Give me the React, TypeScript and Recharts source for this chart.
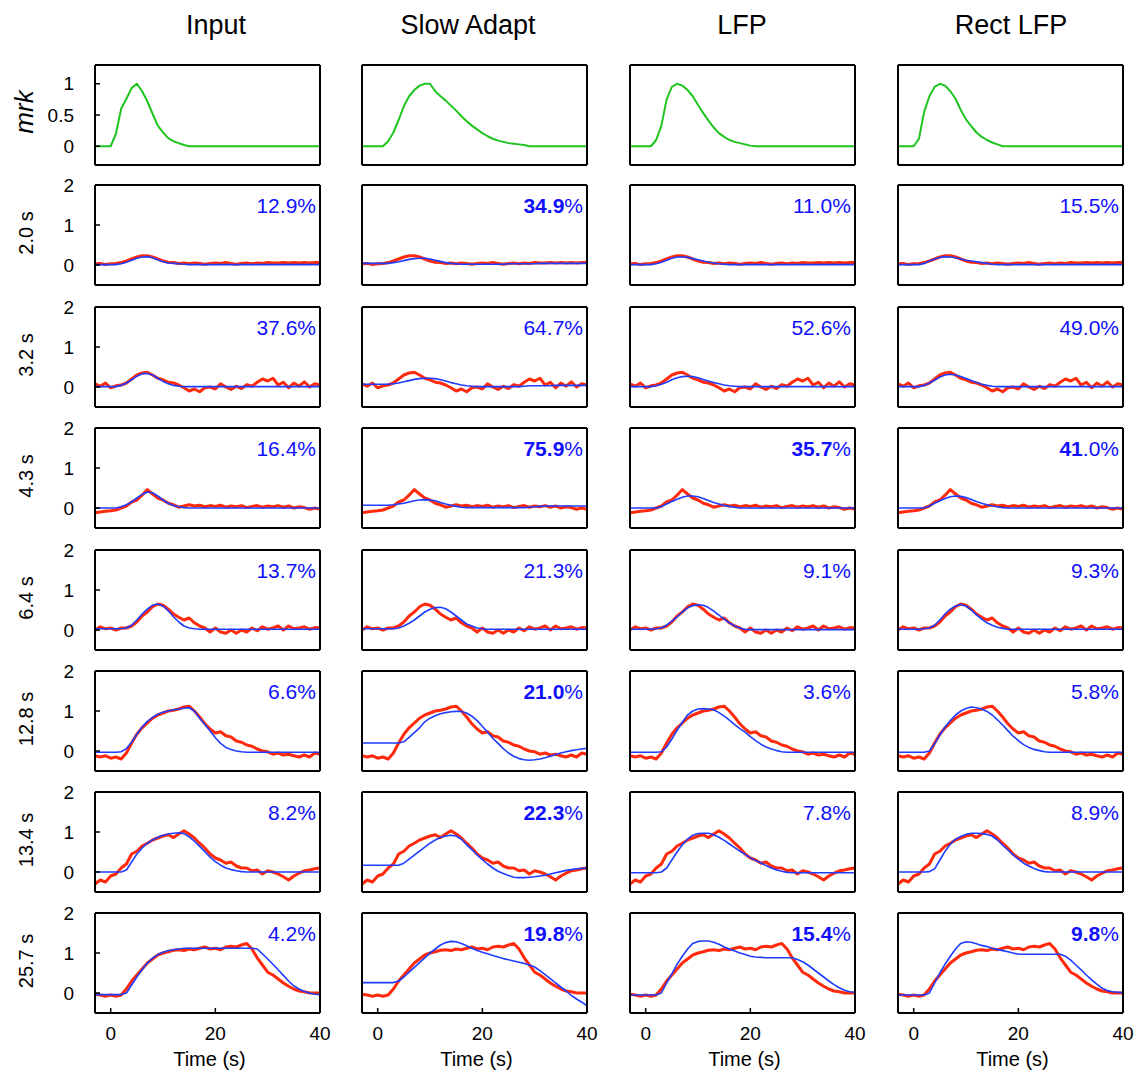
import React from 'react';
import { LineChart, Line, XAxis, YAxis } from 'recharts';

const FONT = '"Liberation Sans", Arial, Helvetica, sans-serif';

// time axis, 1 s steps
const TIME = [-3, -2, -1, 0, 1, 2, 3, 4, 5, 6, 7, 8, 9, 10, 11, 12, 13, 14, 15, 16, 17, 18, 19, 20, 21, 22, 23, 24, 25, 26, 27, 28, 29, 30, 31, 32, 33, 34, 35, 36, 37, 38, 39, 40];

const COLUMNS = ['Input', 'Slow Adapt', 'LFP', 'Rect LFP'];
const TITLE_X = [216, 468, 742, 1011];
const ROW_LABELS = ['2.0 s', '3.2 s', '4.3 s', '6.4 s', '12.8 s', '13.4 s', '25.7 s'];

const X_TICKS = [0, 20, 40];
const MRK_TICKS = [0, 0.5, 1];
const RESP_TICKS = [0, 1, 2];

// mrk stimulus per column
const MRK_INPUT = [
  0, 0, 0, 0, 0.2, 0.6, 0.76, 0.93, 1.0, 0.88,
  0.72, 0.52, 0.33, 0.22, 0.13, 0.08, 0.05, 0.02, 0, 0,
  0, 0, 0, 0, 0, 0, 0, 0, 0, 0,
  0, 0, 0, 0, 0, 0, 0, 0, 0, 0,
  0, 0, 0, 0];
const MRK_SLOW = [
  0, 0, 0, 0, 0, 0.08, 0.22, 0.42, 0.64, 0.8,
  0.9, 0.97, 1.0, 1.0, 0.88, 0.8, 0.73, 0.65, 0.57, 0.48,
  0.4, 0.33, 0.27, 0.21, 0.16, 0.12, 0.09, 0.07, 0.05, 0.04,
  0.03, 0.02, 0, 0, 0, 0, 0, 0, 0, 0,
  0, 0, 0, 0];
const MRK_LFP = [
  0, 0, 0, 0, 0, 0.1, 0.33, 0.75, 0.95, 1.0,
  0.97, 0.9, 0.8, 0.66, 0.53, 0.41, 0.3, 0.21, 0.15, 0.1,
  0.07, 0.05, 0.03, 0.01, 0, 0, 0, 0, 0, 0,
  0, 0, 0, 0, 0, 0, 0, 0, 0, 0,
  0, 0, 0, 0];
const MRK_RECT = [
  0, 0, 0, 0, 0.12, 0.55, 0.8, 0.95, 1.0, 0.97,
  0.88, 0.76, 0.58, 0.43, 0.32, 0.22, 0.15, 0.1, 0.06, 0.03,
  0, 0, 0, 0, 0, 0, 0, 0, 0, 0,
  0, 0, 0, 0, 0, 0, 0, 0, 0, 0,
  0, 0, 0, 0];

// measured responses (red), one per row
const RED_2_0 = [
  0.03, 0.04, 0.01, 0.03, 0.04, 0.06, 0.1, 0.15, 0.2, 0.23,
  0.23, 0.2, 0.15, 0.1, 0.07, 0.06, 0.04, 0.05, 0.03, 0.05,
  0.04, 0.02, 0.04, 0.05, 0.04, 0.06, 0.04, 0.02, 0.04, 0.05,
  0.03, 0.05, 0.04, 0.06, 0.05, 0.05, 0.06, 0.05, 0.06, 0.05,
  0.06, 0.05, 0.06, 0.06];
const RED_3_2 = [
  0.08, 0.02, 0.1, -0.02, 0.03, 0.05, 0.1, 0.2, 0.3, 0.35,
  0.37, 0.3, 0.22, 0.18, 0.12, 0.1, 0.05, -0.02, -0.1, -0.05,
  -0.12, -0.02, 0, -0.05, 0.08, 0, -0.06, 0.02, -0.04, 0.06,
  0.02, 0.12, 0.2, 0.15, 0.22, 0.05, 0.12, -0.02, 0.1, 0.02,
  0.13, 0, 0.08, 0.05];
const RED_4_3 = [
  -0.12, -0.1, -0.08, -0.07, -0.05, 0, 0.05, 0.15, 0.2, 0.32,
  0.46, 0.35, 0.25, 0.2, 0.12, 0.08, 0.02, 0.05, 0.08, 0.05,
  0.07, 0.03, 0.06, 0.04, 0.07, 0.02, 0.05, 0.03, 0.06, 0.01,
  0.04, 0.06, 0.02, 0.05, 0.03, 0.06, 0.02, 0.05, 0, 0.03,
  0.01, -0.03, 0, -0.03];
const RED_6_4 = [
  0, 0.08, 0.03, 0.05, 0, 0.05, 0.05, 0.1, 0.2, 0.35,
  0.45, 0.58, 0.65, 0.62, 0.52, 0.4, 0.32, 0.25, 0.3, 0.18,
  0.1, 0.05, -0.05, 0.05, -0.05, -0.08, 0, -0.08, 0, -0.05,
  0.05, -0.02, 0.08, 0.02, 0.05, 0.1, 0, 0.1, 0.03, 0.05,
  0.08, 0.02, 0.06, 0.05];
const RED_12_8 = [
  -0.12, -0.15, -0.12, -0.18, -0.15, -0.2, -0.05, 0.2, 0.42, 0.58,
  0.7, 0.82, 0.9, 0.95, 1.0, 1.02, 1.05, 1.1, 1.12, 1.0,
  0.85, 0.68, 0.55, 0.45, 0.48, 0.38, 0.35, 0.25, 0.22, 0.15,
  0.12, 0.05, 0, -0.02, -0.08, -0.05, -0.1, -0.08, -0.12, -0.15,
  -0.1, -0.15, -0.05, -0.08];
const RED_13_4 = [
  -0.3, -0.2, -0.25, -0.1, -0.05, 0.1, 0.2, 0.45, 0.52, 0.65,
  0.72, 0.8, 0.85, 0.9, 0.93, 0.86, 0.95, 1.03, 0.95, 0.85,
  0.72, 0.6, 0.45, 0.35, 0.3, 0.22, 0.25, 0.15, 0.1, 0.1,
  0.03, 0.05, -0.05, 0.03, 0, -0.05, -0.12, -0.2, -0.1, -0.03,
  0.03, 0.05, 0.08, 0.1];
const RED_25_7 = [
  -0.03, -0.05, -0.08, -0.05, -0.08, -0.05, 0.1, 0.3, 0.45, 0.6,
  0.75, 0.85, 0.95, 1.0, 1.03, 1.07, 1.08, 1.06, 1.1, 1.08,
  1.12, 1.15, 1.1, 1.12, 1.08, 1.15, 1.17, 1.15, 1.2, 1.24,
  1.1, 0.88, 0.7, 0.52, 0.45, 0.35, 0.25, 0.17, 0.1, 0.05,
  0.03, 0, 0, 0];

// model predictions (blue), row x column
const BLUE_IN_1 = [
  0.01, 0.01, 0.01, 0.01, 0.01, 0.03, 0.07, 0.12, 0.17, 0.2,
  0.21, 0.18, 0.13, 0.08, 0.05, 0.04, 0.03, 0.02, 0.01, 0.01,
  0.01, 0.01, 0.01, 0.01, 0.01, 0.01, 0.01, 0.01, 0.01, 0.01,
  0.01, 0.01, 0.01, 0.01, 0.01, 0.01, 0.01, 0.01, 0.01, 0.01,
  0.01, 0.01, 0.01, 0.01];
const BLUE_SA_1 = [
  0.04, 0.04, 0.04, 0.04, 0.04, 0.04, 0.06, 0.08, 0.11, 0.14,
  0.16, 0.17, 0.17, 0.15, 0.12, 0.09, 0.06, 0.04, 0.03, 0.02,
  0.02, 0.02, 0.02, 0.02, 0.02, 0.02, 0.02, 0.02, 0.03, 0.03,
  0.03, 0.03, 0.03, 0.03, 0.04, 0.04, 0.04, 0.04, 0.04, 0.04,
  0.04, 0.04, 0.04, 0.04];
const BLUE_LFP_1 = [
  0.01, 0.01, 0.01, 0.01, 0.01, 0.03, 0.07, 0.12, 0.17, 0.2,
  0.2, 0.19, 0.16, 0.13, 0.1, 0.07, 0.05, 0.03, 0.02, 0.01,
  0.01, 0.01, 0.01, 0.01, 0.01, 0.01, 0.01, 0.01, 0.01, 0.01,
  0.01, 0.01, 0.01, 0.01, 0.01, 0.01, 0.01, 0.01, 0.01, 0.01,
  0.01, 0.01, 0.01, 0.01];
const BLUE_RECT_1 = [
  0.01, 0.01, 0.01, 0.01, 0.01, 0.04, 0.1, 0.15, 0.19, 0.21,
  0.2, 0.18, 0.15, 0.12, 0.1, 0.08, 0.06, 0.04, 0.02, 0.01,
  0.01, 0.01, 0.01, 0.01, 0.01, 0.01, 0.01, 0.01, 0.01, 0.01,
  0.01, 0.01, 0.01, 0.01, 0.01, 0.01, 0.01, 0.01, 0.01, 0.01,
  0.01, 0.01, 0.01, 0.01];

const BLUE_IN_2 = [
  0.01, 0.01, 0.01, 0.01, 0.01, 0.04, 0.1, 0.18, 0.27, 0.33,
  0.34, 0.3, 0.22, 0.14, 0.08, 0.04, 0.02, 0.01, 0.01, 0.01,
  0.01, 0.01, 0.01, 0.01, 0.01, 0.01, 0.01, 0.01, 0.01, 0.01,
  0.01, 0.01, 0.01, 0.01, 0.01, 0.01, 0.01, 0.01, 0.01, 0.01,
  0.01, 0.01, 0.01, 0.01];
const BLUE_SA_2 = [
  0.07, 0.07, 0.07, 0.07, 0.07, 0.07, 0.08, 0.1, 0.13, 0.16,
  0.19, 0.21, 0.22, 0.22, 0.21, 0.18, 0.15, 0.11, 0.08, 0.05,
  0.03, 0.02, 0.01, 0.01, 0.01, 0.01, 0.01, 0.01, 0.01, 0.01,
  0.01, 0.02, 0.03, 0.03, 0.03, 0.03, 0.03, 0.04, 0.04, 0.04,
  0.04, 0.04, 0.04, 0.04];
const BLUE_LFP_2 = [
  0.01, 0.01, 0.01, 0.01, 0.01, 0.03, 0.07, 0.12, 0.18, 0.23,
  0.26, 0.27, 0.26, 0.23, 0.19, 0.15, 0.11, 0.08, 0.05, 0.03,
  0.02, 0.01, 0.01, 0.01, 0.01, 0.01, 0.01, 0.01, 0.01, 0.01,
  0.01, 0.01, 0.01, 0.01, 0.01, 0.01, 0.01, 0.01, 0.01, 0.01,
  0.01, 0.01, 0.01, 0.01];
const BLUE_RECT_2 = [
  0.01, 0.01, 0.01, 0.01, 0.01, 0.04, 0.1, 0.17, 0.25, 0.3,
  0.32, 0.3, 0.26, 0.21, 0.16, 0.11, 0.07, 0.04, 0.02, 0.01,
  0.01, 0.01, 0.01, 0.01, 0.01, 0.01, 0.01, 0.01, 0.01, 0.01,
  0.01, 0.01, 0.01, 0.01, 0.01, 0.01, 0.01, 0.01, 0.01, 0.01,
  0.01, 0.01, 0.01, 0.01];

const BLUE_IN_3 = [
  0, 0, 0, 0, 0, 0.03, 0.08, 0.15, 0.25, 0.34,
  0.4, 0.38, 0.3, 0.2, 0.12, 0.06, 0.03, 0.01, 0, 0,
  0, 0, 0, 0, 0, 0, 0, 0, 0, 0,
  0, 0, 0, 0, 0, 0, 0, 0, 0, 0,
  0, 0, 0, 0];
const BLUE_SA_3 = [
  0.07, 0.07, 0.07, 0.07, 0.07, 0.07, 0.08, 0.1, 0.12, 0.15,
  0.18, 0.2, 0.21, 0.2, 0.18, 0.14, 0.1, 0.07, 0.04, 0.02,
  0.01, 0.01, 0.01, 0.01, 0.01, 0.01, 0.01, 0.01, 0.01, 0.01,
  0.01, 0.01, 0.02, 0.03, 0.04, 0.05, 0.05, 0.05, 0.05, 0.05,
  0.05, 0.05, 0.05, 0.05];
const BLUE_LFP_3 = [
  0, 0, 0, 0, 0, 0, 0.04, 0.1, 0.16, 0.22,
  0.27, 0.3, 0.3, 0.28, 0.24, 0.19, 0.14, 0.1, 0.06, 0.04,
  0.02, 0, 0, 0, 0, 0, 0, 0, 0, 0,
  0, 0, 0, 0, 0, 0, 0, 0, 0, 0,
  0, 0, 0, 0];
const BLUE_RECT_3 = [
  0, 0, 0, 0, 0, 0, 0.05, 0.12, 0.18, 0.24,
  0.28, 0.3, 0.29, 0.26, 0.21, 0.16, 0.12, 0.08, 0.05, 0.03,
  0.01, 0, 0, 0, 0, 0, 0, 0, 0, 0,
  0, 0, 0, 0, 0, 0, 0, 0, 0, 0,
  0, 0, 0, 0];

const BLUE_IN_4 = [
  0.03, 0.03, 0.03, 0.03, 0.03, 0.03, 0.05, 0.12, 0.25, 0.4,
  0.52, 0.62, 0.65, 0.6, 0.48, 0.33, 0.2, 0.1, 0.05, 0.03,
  0.02, 0.02, 0.02, 0.02, 0.02, 0.02, 0.02, 0.02, 0.02, 0.02,
  0.02, 0.02, 0.02, 0.02, 0.02, 0.02, 0.02, 0.02, 0.02, 0.02,
  0.02, 0.02, 0.02, 0.02];
const BLUE_SA_4 = [
  0.03, 0.03, 0.03, 0.03, 0.03, 0.03, 0.03, 0.05, 0.1, 0.17,
  0.25, 0.35, 0.45, 0.52, 0.56, 0.57, 0.53, 0.45, 0.35, 0.25,
  0.15, 0.1, 0.05, 0.03, 0.02, 0.02, 0.02, 0.02, 0.02, 0.02,
  0.02, 0.02, 0.02, 0.02, 0.02, 0.02, 0.02, 0.02, 0.02, 0.02,
  0.02, 0.02, 0.02, 0.02];
const BLUE_LFP_4 = [
  0.02, 0.02, 0.02, 0.02, 0.02, 0.03, 0.05, 0.12, 0.22, 0.33,
  0.45, 0.55, 0.61, 0.63, 0.62, 0.56, 0.47, 0.37, 0.27, 0.18,
  0.1, 0.05, 0.02, 0.01, 0.01, 0.01, 0.01, 0.01, 0.01, 0.01,
  0.01, 0.01, 0.01, 0.01, 0.01, 0.01, 0.01, 0.01, 0.01, 0.01,
  0.01, 0.01, 0.01, 0.01];
const BLUE_RECT_4 = [
  0.02, 0.02, 0.02, 0.02, 0.02, 0.03, 0.05, 0.12, 0.25, 0.4,
  0.52, 0.6, 0.64, 0.6, 0.5, 0.38, 0.27, 0.18, 0.12, 0.07,
  0.04, 0.02, 0.02, 0.02, 0.02, 0.02, 0.02, 0.02, 0.02, 0.02,
  0.02, 0.02, 0.02, 0.02, 0.02, 0.02, 0.02, 0.02, 0.02, 0.02,
  0.02, 0.02, 0.02, 0.02];

const BLUE_IN_5 = [
  -0.03, -0.03, -0.03, -0.03, -0.03, -0.02, 0.06, 0.22, 0.42, 0.6,
  0.74, 0.84, 0.92, 0.97, 1.0, 1.03, 1.05, 1.07, 1.08, 1.0,
  0.82, 0.66, 0.5, 0.33, 0.19, 0.09, 0.04, 0, -0.02, -0.03,
  -0.03, -0.03, -0.03, -0.03, -0.03, -0.03, -0.03, -0.03, -0.03, -0.03,
  -0.03, -0.03, -0.03, -0.03];
const BLUE_SA_5 = [
  0.2, 0.2, 0.2, 0.2, 0.2, 0.2, 0.2, 0.2, 0.23, 0.34,
  0.46, 0.58, 0.73, 0.82, 0.88, 0.93, 0.96, 0.98, 0.99, 0.99,
  0.95, 0.87, 0.76, 0.62, 0.47, 0.32, 0.19, 0.06, -0.05, -0.13,
  -0.19, -0.22, -0.23, -0.22, -0.2, -0.17, -0.13, -0.09, -0.05, -0.02,
  0.01, 0.03, 0.05, 0.07];
const BLUE_LFP_5 = [
  -0.03, -0.03, -0.03, -0.03, -0.03, -0.03, -0.02, 0.1, 0.3, 0.52,
  0.72, 0.9, 1.0, 1.05, 1.06, 1.05, 1.03, 0.96, 0.87, 0.77,
  0.66, 0.56, 0.47, 0.36, 0.26, 0.17, 0.1, 0.05, 0.01, -0.02,
  -0.03, -0.03, -0.03, -0.03, -0.03, -0.03, -0.03, -0.03, -0.03, -0.03,
  -0.03, -0.03, -0.03, -0.03];
const BLUE_RECT_5 = [
  -0.03, -0.03, -0.03, -0.03, -0.03, -0.03, 0, 0.18, 0.4, 0.6,
  0.76, 0.9, 1.0, 1.06, 1.1, 1.08, 1.05, 0.99, 0.9, 0.78,
  0.65, 0.51, 0.37, 0.26, 0.16, 0.09, 0.04, 0.01, -0.02, -0.03,
  -0.03, -0.03, -0.03, -0.03, -0.03, -0.03, -0.03, -0.03, -0.03, -0.03,
  -0.03, -0.03, -0.03, -0.03];

const BLUE_IN_6 = [
  0, 0, 0, 0, 0, 0, 0.05, 0.25, 0.45, 0.6,
  0.72, 0.8, 0.87, 0.92, 0.95, 0.97, 0.98, 0.96, 0.88, 0.77,
  0.64, 0.51, 0.37, 0.26, 0.17, 0.1, 0.06, 0.03, 0.01, 0,
  0, 0, 0, 0, 0, 0, 0, 0, 0, 0,
  0, 0, 0, 0];
const BLUE_SA_6 = [
  0.17, 0.17, 0.17, 0.17, 0.17, 0.17, 0.17, 0.17, 0.22, 0.32,
  0.42, 0.52, 0.62, 0.72, 0.8, 0.86, 0.9, 0.92, 0.9, 0.82,
  0.68, 0.56, 0.43, 0.31, 0.2, 0.1, 0.02, -0.04, -0.09, -0.13,
  -0.14, -0.14, -0.13, -0.12, -0.1, -0.08, -0.05, -0.02, 0.01, 0.04,
  0.06, 0.08, 0.09, 0.1];
const BLUE_LFP_6 = [
  -0.02, -0.02, -0.02, -0.02, -0.02, -0.02, 0, 0.1, 0.3, 0.5,
  0.68, 0.82, 0.92, 0.96, 0.97, 0.97, 0.93, 0.87, 0.79, 0.7,
  0.61, 0.52, 0.44, 0.36, 0.29, 0.23, 0.16, 0.1, 0.05, 0.02,
  -0.01, -0.02, -0.02, -0.02, -0.02, -0.02, -0.02, -0.02, -0.02, -0.02,
  -0.02, -0.02, -0.02, -0.02];
const BLUE_RECT_6 = [
  0, 0, 0, 0, 0, 0, 0.01, 0.08, 0.3, 0.52,
  0.7, 0.82, 0.89, 0.94, 0.97, 0.97, 0.96, 0.94, 0.9, 0.8,
  0.67, 0.55, 0.43, 0.32, 0.22, 0.15, 0.09, 0.04, 0.01, 0,
  0, 0, 0, 0, 0, 0, 0, 0, 0, 0,
  0, 0, 0, 0];

const BLUE_IN_7 = [
  -0.04, -0.04, -0.04, -0.04, -0.04, -0.04, 0, 0.2, 0.4, 0.58,
  0.75, 0.87, 0.96, 1.02, 1.06, 1.08, 1.1, 1.12, 1.12, 1.12,
  1.12, 1.12, 1.12, 1.12, 1.12, 1.12, 1.12, 1.12, 1.12, 1.12,
  1.12, 1.1, 0.98, 0.85, 0.72, 0.58, 0.44, 0.3, 0.18, 0.1,
  0.04, 0, -0.03, -0.04];
const BLUE_SA_7 = [
  0.26, 0.26, 0.26, 0.26, 0.26, 0.26, 0.26, 0.3, 0.4, 0.52,
  0.64, 0.76, 0.88, 1.0, 1.1, 1.2, 1.26, 1.29, 1.28, 1.24,
  1.18, 1.12, 1.06, 1.02, 0.98, 0.94, 0.9, 0.86, 0.83, 0.8,
  0.77, 0.74, 0.7, 0.65, 0.56, 0.46, 0.36, 0.25, 0.15, 0.05,
  -0.06, -0.15, -0.23, -0.32];
const BLUE_LFP_7 = [
  -0.05, -0.05, -0.05, -0.05, -0.05, -0.05, 0, 0.25, 0.48, 0.72,
  0.92, 1.1, 1.24, 1.29, 1.3, 1.3, 1.27, 1.22, 1.15, 1.1,
  1.05, 1.0, 0.96, 0.92, 0.9, 0.89, 0.88, 0.88, 0.88, 0.88,
  0.88, 0.88, 0.84, 0.78, 0.7, 0.6, 0.5, 0.4, 0.3, 0.21,
  0.13, 0.07, 0.03, 0.02];
const BLUE_RECT_7 = [
  -0.05, -0.05, -0.05, -0.05, -0.05, -0.05, 0, 0.25, 0.5, 0.72,
  0.92, 1.1, 1.24, 1.28, 1.27, 1.23, 1.19, 1.16, 1.12, 1.09,
  1.06, 1.03, 1.0, 0.97, 0.97, 0.97, 0.97, 0.97, 0.97, 0.97,
  0.97, 0.97, 0.92, 0.82, 0.7, 0.58, 0.45, 0.33, 0.22, 0.12,
  0.06, 0.03, 0.02, 0.01];

const MRK = [MRK_INPUT, MRK_SLOW, MRK_LFP, MRK_RECT];
const RED = [RED_2_0, RED_3_2, RED_4_3, RED_6_4, RED_12_8, RED_13_4, RED_25_7];
const BLUE = [
  [BLUE_IN_1, BLUE_SA_1, BLUE_LFP_1, BLUE_RECT_1],
  [BLUE_IN_2, BLUE_SA_2, BLUE_LFP_2, BLUE_RECT_2],
  [BLUE_IN_3, BLUE_SA_3, BLUE_LFP_3, BLUE_RECT_3],
  [BLUE_IN_4, BLUE_SA_4, BLUE_LFP_4, BLUE_RECT_4],
  [BLUE_IN_5, BLUE_SA_5, BLUE_LFP_5, BLUE_RECT_5],
  [BLUE_IN_6, BLUE_SA_6, BLUE_LFP_6, BLUE_RECT_6],
  [BLUE_IN_7, BLUE_SA_7, BLUE_LFP_7, BLUE_RECT_7],
];

// error percentages; PCT_BOLD = how many leading characters are bold
const PCT = [
  ['12.9', '34.9', '11.0', '15.5'],
  ['37.6', '64.7', '52.6', '49.0'],
  ['16.4', '75.9', '35.7', '41.0'],
  ['13.7', '21.3', '9.1', '9.3'],
  ['6.6', '21.0', '3.6', '5.8'],
  ['8.2', '22.3', '7.8', '8.9'],
  ['4.2', '19.8', '15.4', '9.8'],
];
const PCT_BOLD = [
  [0, 4, 0, 0],
  [0, 0, 0, 0],
  [0, 4, 4, 2],
  [0, 0, 0, 0],
  [0, 4, 0, 0],
  [0, 4, 0, 0],
  [0, 4, 4, 3],
];

const RED_C = '#ff2a0c';
const BLUE_C = '#1f3dff';
const GREEN_C = '#1fc41f';
const TEXT_BLUE = '#1010ff';

const PLOT_W = 225;
const PLOT_H = 100;
const AX_L = 60;
const AX_B = 32;
const PAD_T = 14;
const PAD_R = 22;
const COL_X = [95, 362, 630, 898];
const ROW_Y = [65, 185, 307, 428, 550, 671, 792, 913];

type LineSpec = { key: string; color: string; width: number };

const Panel = ({ left, top, data, lines, yDomain, yTicks, showY, showX }: {
  left: number; top: number; data: any[]; lines: LineSpec[];
  yDomain: number[]; yTicks: number[]; showY: boolean; showX: boolean;
}) => {
  const frame = { stroke: '#000', strokeWidth: 2 };
  const tl = { stroke: '#000', strokeWidth: 1.5 };
  const tickText = { fontSize: 19, fill: '#000', fontFamily: FONT };
  return (
    <div style={{ position: 'absolute', left: left - AX_L, top: top - PAD_T }}>
      <LineChart width={AX_L + PLOT_W + PAD_R} height={PAD_T + PLOT_H + AX_B} data={data}
        margin={{ top: PAD_T - 1, right: PAD_R - 1, bottom: 0, left: 0 }}>
        <XAxis xAxisId="b" dataKey="t" type="number" domain={[-3, 40]} ticks={X_TICKS} allowDataOverflow interval={0}
          height={AX_B} tickSize={-5} tickMargin={19} axisLine={frame} tickLine={tl} tick={showX ? tickText : false} />
        {/* mirrored top axis: 1px tall so that it is drawn */}
        <XAxis xAxisId="t" orientation="top" dataKey="t" type="number" domain={[-3, 40]} ticks={X_TICKS} allowDataOverflow interval={0}
          height={1} tickSize={-5} axisLine={frame} tickLine={tl} tick={false} />
        <YAxis yAxisId="l" type="number" domain={yDomain} ticks={yTicks} allowDataOverflow interval={0}
          width={AX_L} tickSize={-5} tickMargin={26} axisLine={frame} tickLine={tl} tick={showY ? tickText : false} />
        <YAxis yAxisId="r" orientation="right" type="number" domain={yDomain} ticks={yTicks} allowDataOverflow interval={0}
          width={1} tickSize={-5} axisLine={frame} tickLine={tl} tick={false} />
        <Line xAxisId="t" yAxisId="r" type="linear" dataKey={lines[0].key} stroke="none" strokeWidth={0}
          dot={false} activeDot={false} isAnimationActive={false} />
        {lines.map((l) => (
          <Line key={l.key} xAxisId="b" yAxisId="l" type="linear" dataKey={l.key} stroke={l.color}
            strokeWidth={l.width} strokeLinejoin="round" dot={false} activeDot={false} isAnimationActive={false} />
        ))}
      </LineChart>
    </div>
  );
};

export default function App() {
  const panels: React.ReactNode[] = [];
  COLUMNS.forEach((_, c) => {
    const mrkData = TIME.map((t, i) => ({ t, green: MRK[c][i] }));
    panels.push(
      <Panel key={`m${c}`} left={COL_X[c]} top={ROW_Y[0]} data={mrkData}
        lines={[{ key: 'green', color: GREEN_C, width: 2 }]}
        yDomain={[-0.3, 1.3]} yTicks={MRK_TICKS} showY={c === 0} showX={false} />
    );
    RED.forEach((red, r) => {
      const blue = BLUE[r][c];
      const rows = TIME.map((t, i) => ({ t, red: red[i], blue: blue[i] }));
      panels.push(
        <Panel key={`p${r}-${c}`} left={COL_X[c]} top={ROW_Y[r + 1]} data={rows}
          lines={[{ key: 'red', color: RED_C, width: 3 }, { key: 'blue', color: BLUE_C, width: 1.6 }]}
          yDomain={[-0.5, 2]} yTicks={RESP_TICKS} showY={c === 0} showX={r === RED.length - 1} />
      );
    });
  });

  return (
    <div style={{ position: 'absolute', left: 0, top: 0, width: 1143, height: 1074, background: '#fff', fontFamily: FONT }}>
      {panels}
      <svg width={1143} height={1074} style={{ position: 'absolute', left: 0, top: 0, pointerEvents: 'none' }}
        fontFamily={FONT}>
        {COLUMNS.map((name, c) => (
          <text key={name} x={TITLE_X[c]} y={34} fontSize={27} textAnchor="middle" fill="#000">{name}</text>
        ))}
        <text transform="translate(33,112) rotate(-90)" fontSize={26} fontStyle="italic" textAnchor="middle" fill="#000">mrk</text>
        {ROW_LABELS.map((lab, r) => (
          <text key={lab} transform={`translate(33,${ROW_Y[r + 1] + 48}) rotate(-90)`} fontSize={20}
            textAnchor="middle" fill="#000">{lab}</text>
        ))}
        {PCT.map((row, r) => row.map((val, c) => {
          const nb = PCT_BOLD[r][c];
          return (
            <text key={`t${r}-${c}`} x={COL_X[c] + PLOT_W - 4} y={ROW_Y[r + 1] + 28} fontSize={21}
              textAnchor="end" fill={TEXT_BLUE}>
              <tspan fontWeight="bold">{val.slice(0, nb)}</tspan>
              <tspan>{val.slice(nb)}%</tspan>
            </text>
          );
        }))}
        {COLUMNS.map((name, c) => (
          <text key={`x${name}`} x={COL_X[c] + PLOT_W / 2 + 2} y={1066} fontSize={20} textAnchor="middle" fill="#000">Time (s)</text>
        ))}
      </svg>
    </div>
  );
}
